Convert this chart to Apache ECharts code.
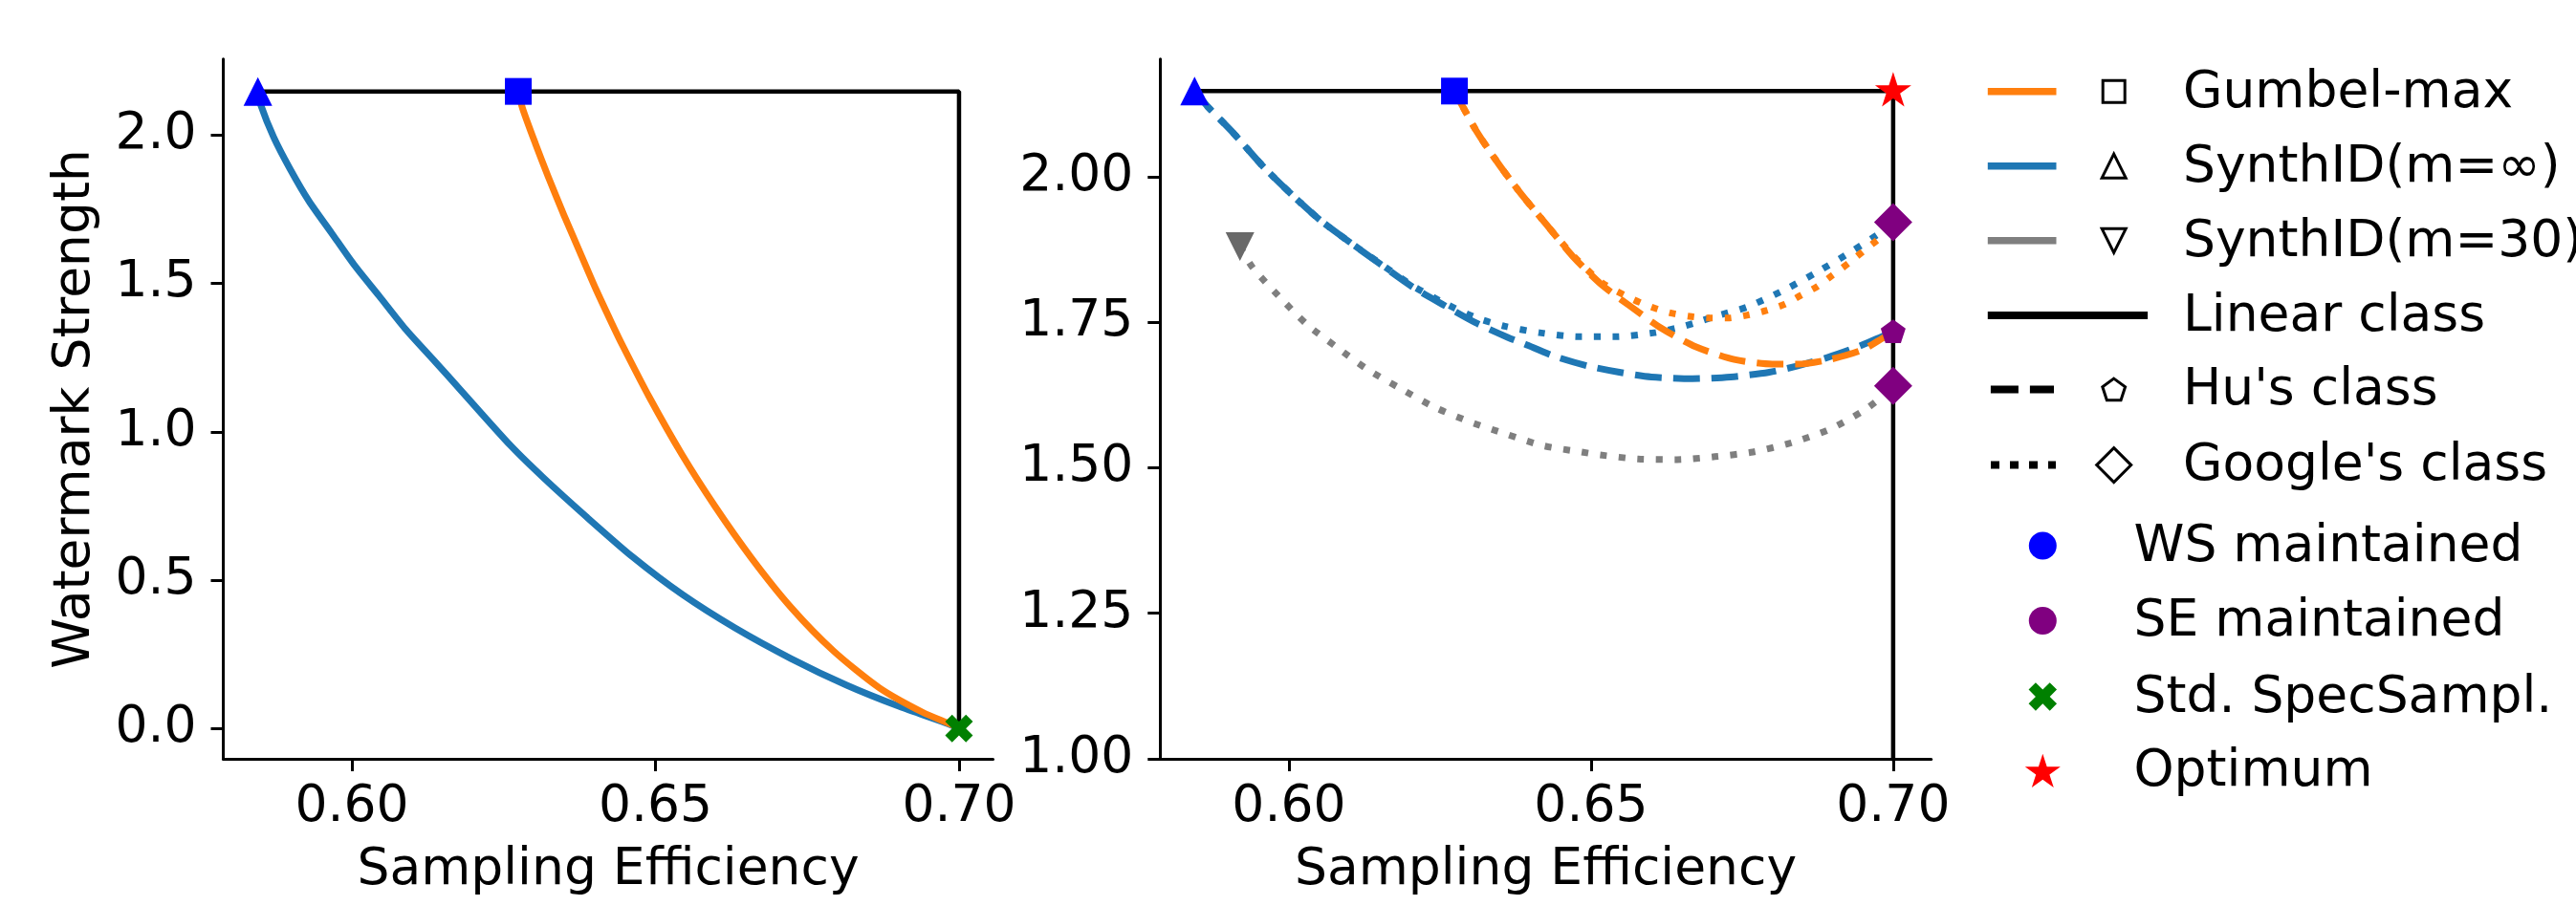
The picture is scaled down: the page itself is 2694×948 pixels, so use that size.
<!DOCTYPE html>
<html><head><meta charset="utf-8">
<script src="https://cdn.jsdelivr.net/npm/echarts@6/dist/echarts.min.js"></script>
<style>html,body{margin:0;padding:0;background:#fff;}#c{width:2694px;height:948px;}</style>
</head><body><div id="c"></div>
<script>
// ================= DATA =================
const xTicks = [0.60, 0.65, 0.70];
const yTicksLeft = [0.0, 0.5, 1.0, 1.5, 2.0];
const yTicksRight = [1.00, 1.25, 1.50, 1.75, 2.00];
const xName = 'Sampling Efficiency';
const yName = 'Watermark Strength';

// left panel
const linearLeft = [[0.5845, 2.147], [0.70, 2.147], [0.70, 0.0]];
const gumbelLeft = [[0.6274,2.147],[0.6281,2.090],[0.6302,1.972],[0.6323,1.861],[0.6349,1.731],[0.6376,1.603],[0.6402,1.480],[0.6428,1.366],[0.6446,1.290],[0.6490,1.116],[0.6544,0.922],[0.6598,0.749],[0.6658,0.575],[0.6723,0.409],[0.6793,0.262],[0.6869,0.137],[0.6940,0.055],[0.6989,0.012],[0.70,0.0]];
const synthLeft = [[0.5845,2.147],[0.5850,2.100],[0.5871,1.993],[0.5898,1.886],[0.5929,1.778],[0.5966,1.671],[0.6003,1.564],[0.6045,1.457],[0.6087,1.349],[0.6134,1.243],[0.6181,1.136],[0.6262,0.952],[0.6316,0.844],[0.6386,0.714],[0.6462,0.579],[0.6544,0.452],[0.6631,0.339],[0.6723,0.236],[0.6815,0.146],[0.6902,0.074],[0.6978,0.019],[0.70,0.0]];
const wsSynthLeft = [[0.5845, 2.147]];
const wsGumbelLeft = [[0.6274, 2.147]];
const stdSpecSampl = [[0.70, 0.0]];

// right panel
const linearRight = [[0.5844, 2.147], [0.70, 2.147], [0.70, 0.0]];
const synthHu = [[0.5844,2.147],[0.5866,2.120],[0.5909,2.074],[0.5956,2.019],[0.6004,1.970],[0.6051,1.926],[0.6104,1.885],[0.6151,1.850],[0.6204,1.811],[0.6257,1.779],[0.6309,1.749],[0.6362,1.724],[0.6389,1.713],[0.6441,1.691],[0.6494,1.675],[0.6547,1.664],[0.6600,1.656],[0.6668,1.653],[0.6731,1.656],[0.6795,1.664],[0.6842,1.675],[0.6890,1.689],[0.6942,1.708],[0.6985,1.727],[0.70,1.7323]];
const synthGoogle = [[0.5844,2.147],[0.5866,2.120],[0.5909,2.074],[0.5956,2.019],[0.6004,1.970],[0.6051,1.926],[0.6104,1.885],[0.6151,1.851],[0.6204,1.813],[0.6257,1.783],[0.6309,1.758],[0.6357,1.743],[0.6415,1.732],[0.6478,1.725],[0.6542,1.725],[0.6605,1.732],[0.6642,1.740],[0.6673,1.749],[0.6705,1.760],[0.6758,1.776],[0.6821,1.806],[0.6874,1.836],[0.6932,1.872],[0.6979,1.904],[0.70,1.9218]];
const gumbelHu = [[0.6274,2.147],[0.6310,2.079],[0.6347,2.022],[0.6383,1.972],[0.6426,1.918],[0.6470,1.863],[0.6518,1.814],[0.6563,1.779],[0.6616,1.740],[0.6673,1.708],[0.6737,1.686],[0.6800,1.678],[0.6842,1.678],[0.6895,1.686],[0.6948,1.702],[0.6985,1.724],[0.70,1.7323]];
const gumbelGoogle = [[0.6274,2.147],[0.6310,2.079],[0.6347,2.022],[0.6383,1.972],[0.6426,1.918],[0.6470,1.865],[0.6518,1.818],[0.6568,1.790],[0.6600,1.776],[0.6631,1.766],[0.6663,1.760],[0.6695,1.757],[0.6726,1.757],[0.6758,1.762],[0.6790,1.770],[0.6821,1.781],[0.6847,1.796],[0.6874,1.811],[0.6900,1.831],[0.6927,1.852],[0.6953,1.874],[0.6979,1.896],[0.70,1.9218]];
const synth30Google = [[0.5919,1.880],[0.5940,1.844],[0.5983,1.795],[0.6030,1.746],[0.6078,1.708],[0.6130,1.669],[0.6183,1.637],[0.6241,1.604],[0.6299,1.579],[0.6362,1.557],[0.6420,1.538],[0.6484,1.527],[0.6515,1.522],[0.6578,1.515],[0.6642,1.514],[0.6705,1.519],[0.6768,1.527],[0.6832,1.543],[0.6895,1.566],[0.6948,1.596],[0.6977,1.618],[0.70,1.6405]];
const wsSynthRight = [[0.5844, 2.147]];
const wsGumbelRight = [[0.6274, 2.147]];
const synth30Start = [[0.5919, 1.880]];
const optimum = [[0.70, 2.147]];
const seHu = [[0.70, 1.7323]];
const seGoogle = [[0.70, 1.9218], [0.70, 1.6405]];

const legendRows = ['Gumbel-max', 'SynthID(m=\u221e)', 'SynthID(m=30)', 'Linear class', "Hu's class", "Google's class",
                    'WS maintained', 'SE maintained', 'Std. SpecSampl.', 'Optimum'];

// ================= STYLE / GEOMETRY =================
const F = 'DejaVu Sans';
const FS = 53.5;
const C = {orange:'#ff7f0e', blue:'#1f77b4', gray:'#7f7f7f', ws:'#0000ff', se:'#800080', green:'#008000', red:'#ff0000', dim:'#696969'};
const LW = 7;
const DASH = [28, 12];
const DOT = [7, 12.5];

function starPts(R){const p=[];for(let i=0;i<10;i++){const r=i%2?R*0.381966:R;const a=(-90+36*i)*Math.PI/180;p.push([r*Math.cos(a),r*Math.sin(a)]);}return p;}
function pentPts(R){const p=[];for(let i=0;i<5;i++){const a=(-90+72*i)*Math.PI/180;p.push([R*Math.cos(a),R*Math.sin(a)]);}return p;}
function xPts(s){const base=[[-1,-3],[1,-3],[1,-1],[3,-1],[3,1],[1,1],[1,3],[-1,3],[-1,1],[-3,1],[-3,-1],[-1,-1]];const k=s/0.9428/6;return base.map(([x,y])=>[(x-y)/Math.SQRT2*k,(x+y)/Math.SQRT2*k]);}
function toPath(pts){return 'path://M'+pts.map(p=>p[0].toFixed(4)+','+p[1].toFixed(4)).join('L')+'Z';}

const starPath = toPath(starPts(10));
const pentPath = toPath(pentPts(10));
const xPath = toPath(xPts(10));

const gridL = {left:233.5, top:61.8, width:805, height:732.2};
const gridR = {left:1213.3, top:61.8, width:806.4, height:732.2};

function xAxisCfg(i, min, max){
  return {type:'value', gridIndex:i, min:min, max:max,
    axisLine:{show:true, onZero:false, lineStyle:{color:'#000', width:3}},
    axisTick:{show:true, customValues:xTicks, length:13, lineStyle:{color:'#000', width:3}},
    axisLabel:{customValues:xTicks, formatter:v=>v.toFixed(2), fontSize:FS, fontFamily:F, color:'#000', margin:24},
    splitLine:{show:false},
    name:xName, nameLocation:'middle', nameGap:90,
    nameTextStyle:{fontSize:FS, fontFamily:F, color:'#000'}};
}
function yAxisCfg(i, min, max, ticks, dec, withName){
  const a = {type:'value', gridIndex:i, min:min, max:max,
    axisLine:{show:true, onZero:false, lineStyle:{color:'#000', width:3}},
    axisTick:{show:true, customValues:ticks, length:13, lineStyle:{color:'#000', width:3}},
    axisLabel:{customValues:ticks, formatter:v=>v.toFixed(dec), fontSize:FS, fontFamily:F, color:'#000', margin:28},
    splitLine:{show:false}};
  if (withName) {
    a.name = yName; a.nameLocation = 'middle'; a.nameGap = 127;
    a.nameTextStyle = {fontSize:FS, fontFamily:F, color:'#000'};
  }
  return a;
}

function lineS(xi, data, color, type, width){
  return {type:'line', xAxisIndex:xi, yAxisIndex:xi, data:data, showSymbol:false, symbol:'none',
    smooth:0.25, clip:true, silent:true,
    lineStyle:{color:color, width:width||LW, type:type||'solid', cap:'butt', join:'round'}, z:2};
}
function linS(xi, data){
  return {type:'line', xAxisIndex:xi, yAxisIndex:xi, data:data, showSymbol:false, symbol:'none', clip:true, silent:true,
    lineStyle:{color:'#000', width:4.5}, z:1};
}
function scat(xi, data, symbol, size, color, extra){
  return Object.assign({type:'scatter', xAxisIndex:xi, yAxisIndex:xi, data:data, symbol:symbol, symbolSize:size,
    itemStyle:{color:color, opacity:1}, silent:true, z:5, clip:false}, extra||{});
}

const series = [
  linS(0, linearLeft),
  lineS(0, synthLeft, C.blue),
  lineS(0, gumbelLeft, C.orange),
  scat(0, wsSynthLeft, 'triangle', 30, C.ws),
  scat(0, wsGumbelLeft, 'rect', 28, C.ws),
  scat(0, stdSpecSampl, xPath, 29, C.green),

  linS(1, linearRight),
  lineS(1, synth30Google, C.gray, DOT),
  lineS(1, synthGoogle, C.blue, DOT),
  lineS(1, gumbelGoogle, C.orange, DOT),
  lineS(1, synthHu, C.blue, DASH),
  lineS(1, gumbelHu, C.orange, DASH),
  scat(1, wsSynthRight, 'triangle', 30, C.ws),
  scat(1, wsGumbelRight, 'rect', 28, C.ws),
  scat(1, synth30Start, 'triangle', 30, C.dim, {symbolRotate:180}),
  scat(1, seGoogle, 'diamond', 40, C.se),
  scat(1, seHu, pentPath, [26, 24.7], C.se, {symbolOffset:[0,-1.3]}),
  scat(1, optimum, starPath, [38, 36.2], C.red, {symbolOffset:[0,-1.9]})
];

// ================= LEGEND (graphic) =================
const rowY = [95.7, 173.7, 251.8, 329.9, 407.4, 486.6, 571.0, 649.6, 728.9, 806.4];
const hx1 = 2078.8, hx2 = 2150.5, mx1 = 2210.7, mx2 = 2136.3, tx1 = 2283, tx2 = 2231.5;
const g = [];
function hollow(pts, cx, cy){ return {type:'polygon', shape:{points:pts.map(p=>[cx+p[0], cy+p[1]])}, style:{fill:'#fff', stroke:'#000', lineWidth:3}}; }
function filled(pts, cx, cy, color){ return {type:'polygon', shape:{points:pts.map(p=>[cx+p[0], cy+p[1]])}, style:{fill:color}}; }
function txt(s, x, y){ return {type:'text', style:{text:s, x:x, y:y+2, fontSize:FS, fontFamily:F, fill:'#000', verticalAlign:'middle', align:'left'}}; }
function hline(x1, x2, y, color, w, dash){ return {type:'line', shape:{x1:x1, y1:y, x2:x2, y2:y}, style:{stroke:color, lineWidth:w, lineDash:dash||null, lineCap:'butt'}}; }

// colour rows
g.push(hline(hx1, hx2, rowY[0], C.orange, 7.5));
g.push({type:'rect', shape:{x:mx1-11.5, y:rowY[0]-11.5, width:23, height:23}, style:{fill:'#fff', stroke:'#000', lineWidth:3}});
g.push(hline(hx1, hx2, rowY[1], C.blue, 7.5));
g.push(hollow([[0,-12.5],[12.5,12.5],[-12.5,12.5]], mx1, rowY[1]));
g.push(hline(hx1, hx2, rowY[2], C.gray, 7.5));
g.push(hollow([[0,12.5],[12.5,-12.5],[-12.5,-12.5]], mx1, rowY[2]));
// style rows
g.push(hline(hx1, 2246.1, rowY[3], '#000', 8));
g.push(hline(2081.9, 2148, rowY[4], '#000', 8, [29, 12]));
g.push(hollow(pentPts(12.5), mx1, rowY[4] + 1.2));
g.push(hline(2082, 2150, rowY[5], '#000', 8, [9, 11]));
g.push(hollow([[0,-18],[18,0],[0,18],[-18,0]], mx1, rowY[5]));
// point rows
g.push({type:'circle', shape:{cx:mx2, cy:rowY[6], r:14.5}, style:{fill:C.ws}});
g.push({type:'circle', shape:{cx:mx2, cy:rowY[7], r:14.5}, style:{fill:C.se}});
g.push(filled(xPts(29.5), mx2, rowY[8], C.green));
g.push(filled(starPts(19.5), mx2, rowY[9] + 1.9, C.red));
for (let i = 0; i < 6; i++) g.push(txt(legendRows[i], tx1, rowY[i]));
for (let i = 6; i < 10; i++) g.push(txt(legendRows[i], tx2, rowY[i]));

const option = {
  animation:false,
  backgroundColor:'#fff',
  grid:[gridL, gridR],
  xAxis:[xAxisCfg(0, 0.5788, 0.7056), xAxisCfg(1, 0.5787, 0.7063)],
  yAxis:[yAxisCfg(0, -0.102, 2.256, yTicksLeft, 1, true), yAxisCfg(1, 1.0, 2.202, yTicksRight, 2, false)],
  series:series,
  graphic:g
};
const chart = echarts.init(document.getElementById('c'), null, {renderer:'canvas'});
chart.setOption(option);
</script></body></html>
